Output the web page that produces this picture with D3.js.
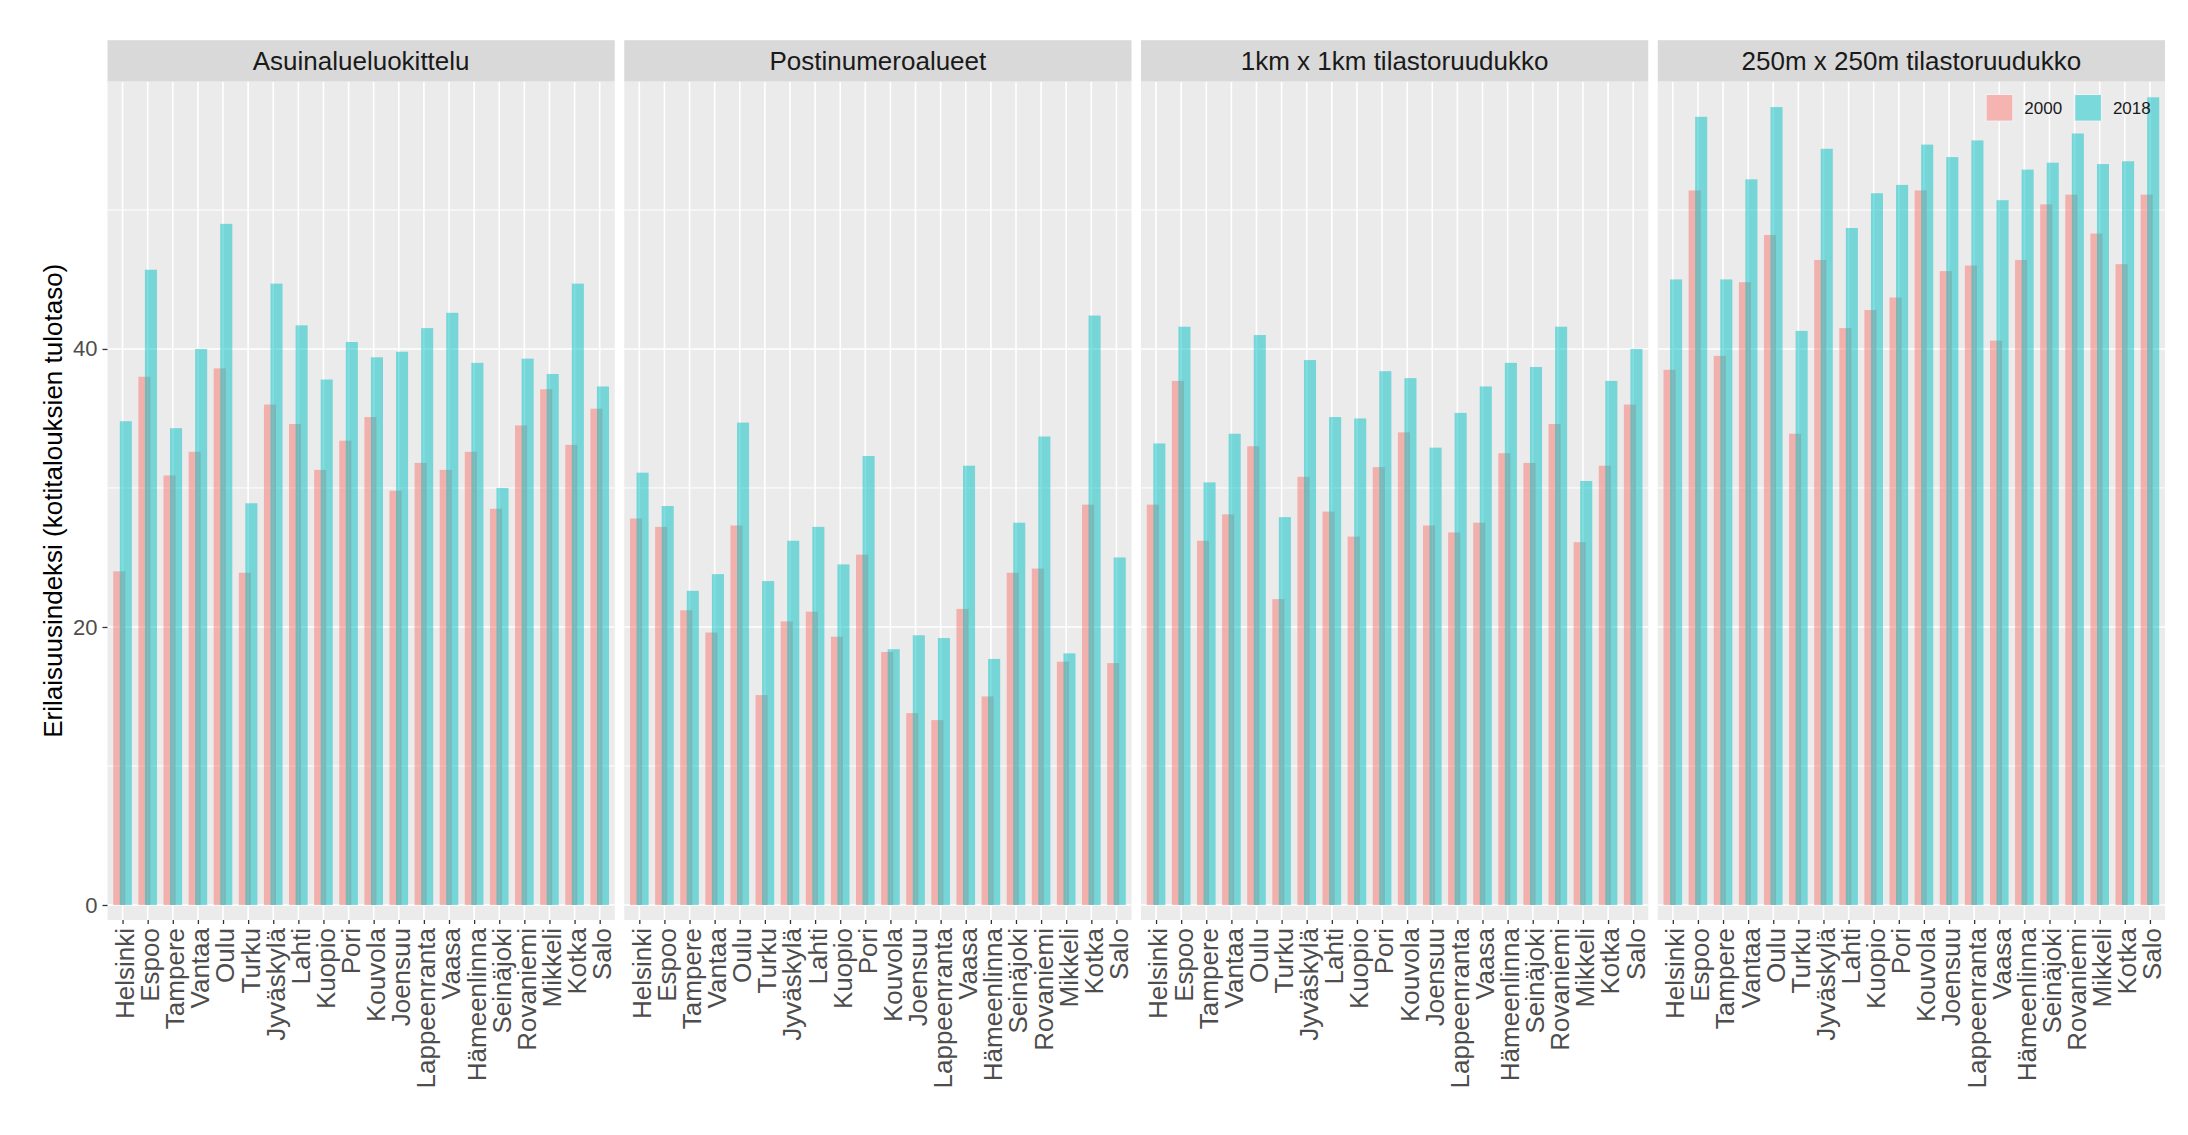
<!DOCTYPE html>
<html>
<head>
<meta charset="utf-8">
<script src="https://cdn.jsdelivr.net/npm/d3@7"></script>
<style>
  body { margin: 0; background: #fff; }
  text { font-family: "Liberation Sans", Arial, sans-serif; }
</style>
</head>
<body>
<svg id="chart"></svg>
<script>
const cities = ['Helsinki', 'Espoo', 'Tampere', 'Vantaa', 'Oulu', 'Turku', 'Jyväskylä', 'Lahti', 'Kuopio', 'Pori',
    'Kouvola', 'Joensuu', 'Lappeenranta', 'Vaasa', 'Hämeenlinna', 'Seinäjoki', 'Rovaniemi', 'Mikkeli', 'Kotka', 'Salo'];
const years = ['2000', '2018'];
const panels = ['Asuinalueluokittelu', 'Postinumeroalueet', '1km x 1km tilastoruudukko', '250m x 250m tilastoruudukko'];

const asuin2000 = [24.0, 38.0, 30.9, 32.6, 38.6, 23.9, 36.0, 34.6, 31.3, 33.4, 35.1, 29.8, 31.8, 31.3, 32.6, 28.5, 34.5, 37.1, 33.1, 35.7];
const asuin2018 = [34.8, 45.7, 34.3, 40.0, 49.0, 28.9, 44.7, 41.7, 37.8, 40.5, 39.4, 39.8, 41.5, 42.6, 39.0, 30.0, 39.3, 38.2, 44.7, 37.3];
const posti2000 = [27.8, 27.2, 21.2, 19.6, 27.3, 15.1, 20.4, 21.1, 19.3, 25.2, 18.2, 13.8, 13.3, 21.3, 15.0, 23.9, 24.2, 17.5, 28.8, 17.4];
const posti2018 = [31.1, 28.7, 22.6, 23.8, 34.7, 23.3, 26.2, 27.2, 24.5, 32.3, 18.4, 19.4, 19.2, 31.6, 17.7, 27.5, 33.7, 18.1, 42.4, 25.0];
const km2000 = [28.8, 37.7, 26.2, 28.1, 33.0, 22.0, 30.8, 28.3, 26.5, 31.5, 34.0, 27.3, 26.8, 27.5, 32.5, 31.8, 34.6, 26.1, 31.6, 36.0];
const km2018 = [33.2, 41.6, 30.4, 33.9, 41.0, 27.9, 39.2, 35.1, 35.0, 38.4, 37.9, 32.9, 35.4, 37.3, 39.0, 38.7, 41.6, 30.5, 37.7, 40.0];
const m250_2000 = [38.5, 51.4, 39.5, 44.8, 48.2, 33.9, 46.4, 41.5, 42.8, 43.7, 51.4, 45.6, 46.0, 40.6, 46.4, 50.4, 51.1, 48.3, 46.1, 51.1];
const m250_2018 = [45.0, 56.7, 45.0, 52.2, 57.4, 41.3, 54.4, 48.7, 51.2, 51.8, 54.7, 53.8, 55.0, 50.7, 52.9, 53.4, 55.5, 53.3, 53.5, 58.1];

const majorTicks = [0, 20, 40];
const minorTicks = [10, 30, 50];

const series = [[asuin2000, asuin2018], [posti2000, posti2018], [km2000, km2018], [m250_2000, m250_2018]];

const W = 2188, H = 1135;
const svg = d3.select('#chart').attr('width', W).attr('height', H);
svg.append('rect').attr('width', W).attr('height', H).attr('fill', '#fff');

const left = 107.5, right = 2165, gap = 9.5;
const stripTop = 40.2, panelTop = 81.5, panelBottom = 920;
const pw = (right - left - gap * 3) / 4;

const y = d3.scaleLinear().domain([-1.08, 59.24]).range([panelBottom, panelTop]);
const color = d3.scaleOrdinal().domain(years).range(['#F8766D', '#00BFC4']);

panels.forEach(function(name, p) {
    const x0 = left + p * (pw + gap);
    const g = svg.append('g').attr('transform', `translate(${x0},0)`);
    const x = d3.scalePoint().domain(cities).range([0, pw]).padding(0.6);
    const step = x.step();
    const dodge = d3.scalePoint().domain(years).range([-0.13 * step, 0.13 * step]);
    const bw = 0.48 * step;

  //panel background and grid
    g.append('rect')
        .attr('x', 0).attr('y', panelTop)
        .attr('width', pw).attr('height', panelBottom - panelTop)
        .attr('fill', '#EBEBEB');

    g.selectAll('.minor').data(minorTicks).enter().append('line')
        .attr('x1', 0).attr('x2', pw)
        .attr('y1', d => y(d)).attr('y2', d => y(d))
        .attr('stroke', '#fff').attr('stroke-width', 1);

    g.selectAll('.major').data(majorTicks).enter().append('line')
        .attr('x1', 0).attr('x2', pw)
        .attr('y1', d => y(d)).attr('y2', d => y(d))
        .attr('stroke', '#fff').attr('stroke-width', 1.6);

    g.selectAll('.vgrid').data(cities).enter().append('line')
        .attr('x1', d => x(d)).attr('x2', d => x(d))
        .attr('y1', panelTop).attr('y2', panelBottom)
        .attr('stroke', '#fff').attr('stroke-width', 1.6);

  //bars, 2000 first so 2018 sits on top
    years.forEach(function(yr, k) {
        const vals = series[p][k];
        g.selectAll('.bar' + yr).data(cities).enter().append('rect')
            .attr('x', d => x(d) + dodge(yr) - bw / 2)
            .attr('y', (d, i) => y(vals[i]))
            .attr('width', bw)
            .attr('height', (d, i) => y(0) - y(vals[i]))
            .attr('fill', color(yr))
            .attr('fill-opacity', 0.5);
    });

  //strip
    g.append('rect')
        .attr('x', 0).attr('y', stripTop)
        .attr('width', pw).attr('height', panelTop - stripTop)
        .attr('fill', '#D9D9D9');
    g.append('text')
        .attr('x', pw / 2).attr('y', (stripTop + panelTop) / 2)
        .attr('dy', '0.35em')
        .attr('text-anchor', 'middle')
        .attr('font-size', 26)
        .attr('fill', '#1A1A1A')
        .text(name);

  //x axis
    const xAxis = g.append('g')
        .attr('transform', `translate(0,${panelBottom})`)
        .call(d3.axisBottom(x).tickSize(4).tickPadding(4));
    xAxis.select('.domain').remove();
    xAxis.selectAll('line').attr('stroke', '#333333').attr('stroke-width', 1.3);
    xAxis.selectAll('text')
        .attr('transform', 'rotate(-90)')
        .attr('x', -8).attr('y', 0)
        .attr('dy', '0.42em')
        .style('text-anchor', 'end')
        .attr('font-size', 26)
        .attr('font-family', '"Liberation Sans", Arial, sans-serif')
        .attr('fill', '#4D4D4D');

  //y axis only on first panel
    if (p === 0) {
        const yAxis = g.append('g')
            .call(d3.axisLeft(y).tickValues(majorTicks).tickSize(5).tickPadding(5));
        yAxis.select('.domain').remove();
        yAxis.selectAll('line').attr('stroke', '#333333').attr('stroke-width', 1.3);
        yAxis.selectAll('text')
            .attr('font-size', 22)
            .attr('font-family', '"Liberation Sans", Arial, sans-serif')
            .attr('fill', '#4D4D4D');
    }
});

//y title
svg.append('text')
    .attr('transform', `translate(61.7,${(panelTop + panelBottom) / 2}) rotate(-90)`)
    .attr('text-anchor', 'middle')
    .attr('font-size', 26)
    .attr('fill', '#000')
    .text('Erilaisuusindeksi (kotitalouksien tulotaso)');

//legend inside last panel
const keySize = 27.6;
const legend = svg.append('g').attr('transform', 'translate(1985.7,94)');
const items = legend.selectAll('.item').data(years).enter().append('g')
    .attr('transform', (d, i) => `translate(${i * 88.6},0)`);
items.append('rect')
    .attr('width', keySize).attr('height', keySize)
    .attr('fill', '#F2F2F2');
items.append('rect')
    .attr('x', 1).attr('y', 1)
    .attr('width', keySize - 2).attr('height', keySize - 2)
    .attr('fill', d => color(d))
    .attr('fill-opacity', 0.5);
items.append('text')
    .attr('x', 38.6).attr('y', keySize / 2)
    .attr('dy', '0.35em')
    .attr('font-size', 17)
    .attr('fill', '#1A1A1A')
    .text(d => d);
</script>
</body>
</html>
